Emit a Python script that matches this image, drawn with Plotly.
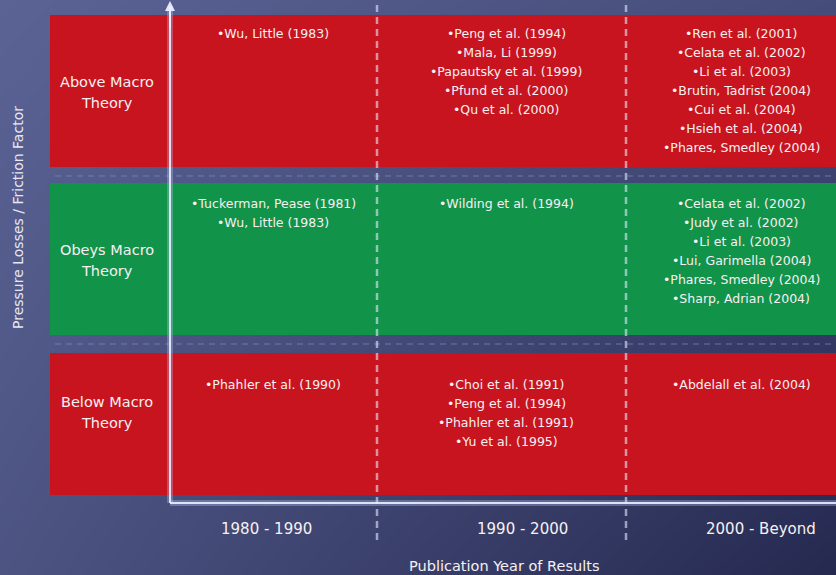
import plotly.graph_objects as go

# ---------------- data ----------------
periods = ["1980 - 1990", "1990 - 2000", "2000 - Beyond"]
regimes = ["Above Macro\nTheory", "Obeys Macro\nTheory", "Below Macro\nTheory"]

studies_above = [
    ["Wu, Little (1983)"],
    ["Peng et al. (1994)", "Mala, Li (1999)", "Papautsky et al. (1999)",
     "Pfund et al. (2000)", "Qu et al. (2000)"],
    ["Ren et al. (2001)", "Celata et al. (2002)", "Li et al. (2003)",
     "Brutin, Tadrist (2004)", "Cui et al. (2004)", "Hsieh et al. (2004)",
     "Phares, Smedley (2004)"],
]
studies_obeys = [
    ["Tuckerman, Pease (1981)", "Wu, Little (1983)"],
    ["Wilding et al. (1994)"],
    ["Celata et al. (2002)", "Judy et al. (2002)", "Li et al. (2003)",
     "Lui, Garimella (2004)", "Phares, Smedley (2004)", "Sharp, Adrian (2004)"],
]
studies_below = [
    ["Phahler et al. (1990)"],
    ["Choi et al. (1991)", "Peng et al. (1994)", "Phahler et al. (1991)",
     "Yu et al. (1995)"],
    ["Abdelall et al. (2004)"],
]
studies = [studies_above, studies_obeys, studies_below]

x_title = "Publication Year of Results"
y_title = "Pressure Losses / Friction Factor"

# ---------------- layout constants (pixel-like canvas) ----------------
W, H = 836, 575
band_left = 50
band_top = [15, 183, 353]
band_bottom = [167, 335, 495]
band_color = ["#c8141f", "#12934a", "#c8141f"]
axis_x, axis_y = 170, 503
col_dividers = [377, 626]
col_text_x = [273, 506, 741]
col_label_x = [266, 522, 761]
first_line_y = [33, 203, 384]
line_step = 19
row_label_x = 107
row_label_y = [92, 260, 412]
row_label_step = 21
sep_y = [176, 344]

FONT = "DejaVu Sans"
TXT = "#f6f0f2"

fig = go.Figure()

# background gradient
fig.add_trace(go.Heatmap(
    x=[0, W], y=[0, H], z=[[0.05, 0.42], [0.3, 1.0]],
    colorscale=[[0, "#5a6394"], [1, "#252950"]],
    zsmooth="best", showscale=False, hoverinfo="skip",
))

shapes = []
for i in range(3):
    shapes.append(dict(type="rect", xref="x", yref="y", x0=band_left, x1=W,
                       y0=band_top[i], y1=band_bottom[i], fillcolor=band_color[i],
                       line=dict(width=0), layer="above"))
for yy in sep_y:
    shapes.append(dict(type="line", xref="x", yref="y", x0=band_left + 5, x1=W,
                       y0=yy, y1=yy, line=dict(color="rgba(120,140,205,0.35)", width=2,
                                               dash="6px,5px"), layer="above"))
for xx in col_dividers:
    shapes.append(dict(type="line", xref="x", yref="y", x0=xx, x1=xx, y0=5, y1=545,
                       line=dict(color="rgba(230,232,255,0.6)", width=2.5,
                                 dash="7px,5px"), layer="above"))
# axis glow + core
for w, c in [(6, "rgba(200,210,255,0.30)"), (2, "rgba(235,238,255,0.9)")]:
    shapes.append(dict(type="line", xref="x", yref="y", x0=axis_x, x1=axis_x,
                       y0=axis_y, y1=6, line=dict(color=c, width=w), layer="above"))
    shapes.append(dict(type="line", xref="x", yref="y", x0=axis_x, x1=W,
                       y0=axis_y, y1=axis_y, line=dict(color=c, width=w), layer="above"))

annotations = []
# arrow head on vertical axis
annotations.append(dict(x=axis_x, y=1, ax=axis_x, ay=30, xref="x", yref="y",
                        axref="x", ayref="y", text="", showarrow=True, arrowhead=2,
                        arrowsize=1, arrowwidth=2, arrowcolor="rgba(235,238,255,0.95)"))

for r, rows in enumerate(studies):
    for c, cell in enumerate(rows):
        for k, name in enumerate(cell):
            annotations.append(dict(x=col_text_x[c], y=first_line_y[r] + k * line_step,
                                    xref="x", yref="y", text="\u2022" + name,
                                    showarrow=False, xanchor="center", yanchor="middle",
                                    font=dict(family=FONT, size=12.5, color=TXT)))

for r, lab in enumerate(regimes):
    lines = lab.split("\n")
    n = len(lines)
    for k, ln in enumerate(lines):
        annotations.append(dict(x=row_label_x,
                                y=row_label_y[r] + (k - (n - 1) / 2) * row_label_step,
                                xref="x", yref="y", text=ln, showarrow=False,
                                xanchor="center", yanchor="middle",
                                font=dict(family=FONT, size=14.5, color=TXT)))

for c, p in enumerate(periods):
    annotations.append(dict(x=col_label_x[c], y=529, xref="x", yref="y", text=p,
                            showarrow=False, xanchor="center", yanchor="middle",
                            font=dict(family=FONT, size=15, color=TXT)))

annotations.append(dict(x=504, y=566, xref="x", yref="y", text=x_title, showarrow=False,
                        xanchor="center", yanchor="middle",
                        font=dict(family=FONT, size=14.5, color=TXT)))
annotations.append(dict(x=18, y=218, xref="x", yref="y", text=y_title, showarrow=False,
                        textangle=-90, xanchor="center", yanchor="middle",
                        font=dict(family=FONT, size=14, color="#e8e6f2")))

fig.update_layout(
    width=W, height=H, margin=dict(l=0, r=0, t=0, b=0),
    paper_bgcolor="#3c4270", plot_bgcolor="#3c4270",
    xaxis=dict(range=[0, W], visible=False, fixedrange=True),
    yaxis=dict(range=[H, 0], visible=False, fixedrange=True),
    shapes=shapes, annotations=annotations, showlegend=False,
)

fig.write_html("out.html", config={"displayModeBar": False},
               post_script="document.body.style.margin='0';"
                           "document.body.style.overflow='hidden';")
